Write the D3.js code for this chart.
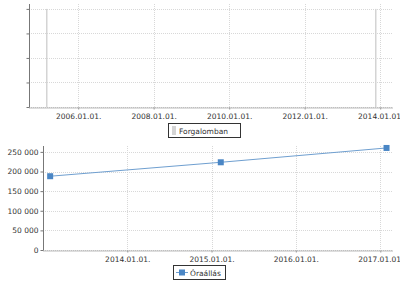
<!DOCTYPE html>
<html><head><meta charset="utf-8">
<script src="https://cdn.jsdelivr.net/npm/d3@7"></script>
<style>
body{margin:0;background:#fff;}
text{font-family:"DejaVu Sans",sans-serif;font-size:7.5px;fill:#333;}
</style></head>
<body>
<svg id="c" width="400" height="281"></svg>
<script>
// Top chart data (Forgalomban)
const topDates = ["2005-02-20","2013-11-15"];
const topValues = [4, 4];
const topXTicks = ["2006-01-01","2008-01-01","2010-01-01","2012-01-01","2014-01-01"];
const topYTicks = [0,1,2,3,4];
const topSeriesName = "Forgalomban";

// Bottom chart data (Óraállás)
const botDates = ["2013-02-01","2015-02-10","2017-01-28"];
const botValues = [188000, 223500, 260000];
const botXTicks = ["2014-01-01","2015-01-01","2016-01-01","2017-01-01"];
const botYTicks = [0,50000,100000,150000,200000,250000];
const botSeriesName = "Óraállás";

const parse = d3.utcParse("%Y-%m-%d");
const fmtDate = d3.utcFormat("%Y.%m.%d.");
const loc = d3.formatLocale({decimal:",",thousands:"\u00a0",grouping:[3],currency:["",""]});
const fmtNum = loc.format(",d");
const svg = d3.select("#c");

const gridColor = "#d8d8d8";

// ---------- TOP ----------
{
  const x = d3.scaleUtc().domain([parse("2004-09-12"), parse("2014-04-25")]).range([29, 392]);
  const y = d3.scaleLinear().domain([0, 4.2]).range([107, 4]);
  const g = svg.append("g");
  g.selectAll(".hg").data(topYTicks).join("line")
    .attr("x1",29).attr("x2",392).attr("y1",d=>Math.round(y(d))+0.5).attr("y2",d=>Math.round(y(d))+0.5)
    .attr("stroke",gridColor).attr("stroke-dasharray","1,1");
  g.selectAll(".vg").data(topXTicks).join("line")
    .attr("x1",d=>Math.round(x(parse(d)))+0.5).attr("x2",d=>Math.round(x(parse(d)))+0.5)
    .attr("y1",4).attr("y2",107)
    .attr("stroke",gridColor).attr("stroke-dasharray","1,1");
  g.selectAll(".bar").data(topDates).join("rect")
    .attr("x",d=>Math.round(x(parse(d)))).attr("width",1.5)
    .attr("y",(d,i)=>y(topValues[i])).attr("height",(d,i)=>107-y(topValues[i]))
    .attr("fill","#d4d4d4");
  const ya = g.append("g").attr("transform","translate(29.5,0)")
    .call(d3.axisLeft(y).tickValues(topYTicks).tickFormat("").tickSize(3).tickSizeOuter(0));
  ya.select(".domain").attr("stroke","#777").attr("d","M0,4V107");
  ya.selectAll(".tick line").attr("stroke","#777");
  const xa = g.append("g").attr("transform","translate(0,107.5)")
    .call(d3.axisBottom(x).tickValues(topXTicks.map(parse)).tickFormat(fmtDate).tickSize(2).tickSizeOuter(0));
  xa.select(".domain").attr("stroke","#777").attr("stroke-dasharray","1,1");
  xa.selectAll(".tick line").attr("stroke","#999");
  xa.selectAll("text").attr("dy","0.9em").style("font-family","DejaVu Sans").style("font-size","7.5px").attr("fill","#333");
  const lg = svg.append("g");
  lg.append("rect").attr("x",168.5).attr("y",123.5).attr("width",72).attr("height",14)
    .attr("fill","#fff").attr("stroke","#333");
  lg.append("rect").attr("x",172).attr("y",126).attr("width",4).attr("height",9).attr("fill","#d4d4d4");
  lg.append("text").attr("x",179).attr("y",133.5).text(topSeriesName);
}

// ---------- BOTTOM ----------
{
  const x = d3.scaleUtc().domain([parse("2013-01-01"), parse("2017-02-25")]).range([43, 393]);
  const y = d3.scaleLinear().domain([0, 265000]).range([250, 146]);
  const g = svg.append("g");
  g.selectAll(".hg").data(botYTicks).join("line")
    .attr("x1",43).attr("x2",393).attr("y1",d=>Math.round(y(d))+0.5).attr("y2",d=>Math.round(y(d))+0.5)
    .attr("stroke",gridColor).attr("stroke-dasharray","1,1");
  g.selectAll(".vg").data(botXTicks).join("line")
    .attr("x1",d=>Math.round(x(parse(d)))+0.5).attr("x2",d=>Math.round(x(parse(d)))+0.5)
    .attr("y1",146).attr("y2",250)
    .attr("stroke",gridColor).attr("stroke-dasharray","1,1");
  const ya = g.append("g").attr("transform","translate(43.5,0)")
    .call(d3.axisLeft(y).tickValues(botYTicks).tickFormat(fmtNum).tickSize(3).tickSizeOuter(0));
  ya.select(".domain").attr("stroke","#777").attr("d","M0,146V250");
  ya.selectAll(".tick line").attr("stroke","#777");
  ya.selectAll("text").style("font-family","DejaVu Sans").style("font-size","7.5px").attr("fill","#333").attr("x",-5);
  const xa = g.append("g").attr("transform","translate(0,250.5)")
    .call(d3.axisBottom(x).tickValues(botXTicks.map(parse)).tickFormat(fmtDate).tickSize(2).tickSizeOuter(0));
  xa.select(".domain").attr("stroke","#777").attr("stroke-dasharray","1,1");
  xa.selectAll(".tick line").attr("stroke","#999");
  xa.selectAll("text").attr("dy","0.9em").style("font-family","DejaVu Sans").style("font-size","7.5px").attr("fill","#333");
  const pts = botDates.map((d,i)=>[x(parse(d)), y(botValues[i])]);
  g.append("path").attr("d",d3.line()(pts)).attr("fill","none").attr("stroke","#6f9fd0").attr("stroke-width",1);
  g.selectAll(".pt").data(pts).join("rect")
    .attr("x",d=>d[0]-3).attr("y",d=>d[1]-3).attr("width",6).attr("height",6).attr("fill","#4a86c5");
  const lg = svg.append("g");
  lg.append("rect").attr("x",173.5).attr("y",265.5).attr("width",52).attr("height",14)
    .attr("fill","#fff").attr("stroke","#333");
  lg.append("line").attr("x1",176).attr("x2",188).attr("y1",272.5).attr("y2",272.5).attr("stroke","#6f9fd0");
  lg.append("rect").attr("x",179).attr("y",269.5).attr("width",6).attr("height",6).attr("fill","#4a86c5");
  lg.append("text").attr("x",190).attr("y",275.5).text(botSeriesName);
}
</script>
</body></html>
